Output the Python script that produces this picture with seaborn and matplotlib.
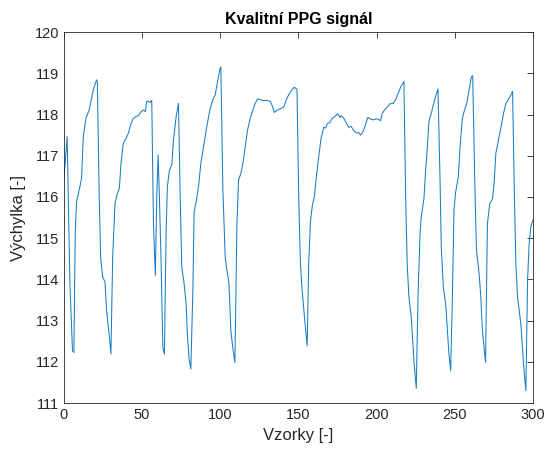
import matplotlib
matplotlib.use("Agg")
import matplotlib.pyplot as plt
import seaborn as sns
import pandas as pd

# PPG signal samples (sample index, amplitude)
vzorky = [
    0, 2.1, 3.8, 5.5, 6.4, 7.3, 8.1, 9.8, 11.3, 12.4, 14.1, 16.2, 18.8, 20.9, 21.4,
    22.6, 23.5, 24.8, 26.3, 27.3, 29.1, 30.1,
    31.2, 32.7, 34.2, 35.5, 36.5, 38.0, 39.7, 41.2, 42.7, 44.4, 46.2, 47.6, 49.4,
    50.9, 52.1, 53.0, 54.0, 55.1, 56.2,
    57.3, 58.5, 59.4, 60.3, 61.1, 62.2, 63.3, 64.3,
    65.4, 66.2, 67.5, 69.0, 70.1, 71.8, 73.3,
    74.4, 75.4, 76.9, 78.2, 79.1, 80.1, 81.2,
    82.5, 83.3, 84.6, 86.1, 87.6, 89.3, 91.4, 93.6, 95.3, 96.8, 98.5, 100.0, 100.4,
    101.7, 103.2, 104.3, 105.6, 106.8, 108.3, 109.4,
    110.7, 111.7, 113.2, 114.5, 116.0, 117.5, 119.2, 120.9, 122.4, 123.9, 125.6,
    127.7, 129.9, 132.0, 133.1, 134.6, 136.3, 138.4, 140.6, 142.3, 143.8, 145.9,
    147.4, 149.1,
    150.2, 151.3, 152.4, 153.9, 155.6,
    156.6, 157.7, 158.8, 160.3, 161.5, 163.0, 164.5, 166.2, 167.3, 168.8, 170.1,
    171.6, 173.3, 175.2, 176.5, 177.3, 179.0, 180.7, 182.2, 183.7, 185.5, 187.2,
    188.7, 189.7, 191.4, 192.9, 194.4, 196.2, 197.9, 199.4, 200.9, 202.6, 203.7,
    205.1, 206.9, 208.6, 210.7, 212.2, 214.3, 215.8, 217.5,
    218.6, 219.6, 220.7, 222.2, 223.9, 225.4,
    226.5, 227.8, 228.6, 230.3, 231.4, 232.5, 233.5, 235.0, 236.3, 237.8, 239.3,
    240.6, 241.4, 242.7, 244.2, 245.3, 246.3, 247.4,
    248.5, 249.5, 250.6, 252.3, 253.4, 254.9, 256.0, 257.7, 259.2, 260.7, 261.5,
    262.8, 263.9, 265.6, 266.7, 267.7, 269.7,
    270.9, 272.4, 274.2, 275.2, 276.3, 277.8, 279.5, 281.2, 282.7, 284.2, 285.5, 287.0,
    288.1, 289.1, 290.2, 292.3, 294.0, 295.5,
    296.6, 297.6, 298.7, 300.0,
]
vychylka = [
    116.41, 117.46, 113.98, 112.27, 112.23, 115.19, 115.88, 116.17, 116.45, 117.46,
    117.91, 118.11, 118.60, 118.84, 118.80,
    116.00, 114.54, 114.06, 113.94, 113.25, 112.60, 112.19,
    114.54, 115.84, 116.09, 116.21, 116.81, 117.30, 117.42, 117.54, 117.75, 117.91,
    117.95, 117.97, 118.07, 118.11, 118.07, 118.32, 118.32, 118.29, 118.34,
    115.35, 114.10, 116.00, 117.02, 116.00, 114.38, 112.35, 112.19,
    115.19, 116.25, 116.65, 116.77, 117.38, 117.95, 118.27,
    116.00, 114.30, 113.90, 113.41, 112.60, 112.07, 111.83,
    113.73, 115.64, 115.88, 116.25, 116.81, 117.22, 117.71, 118.15, 118.36, 118.48,
    118.84, 119.13, 119.15,
    116.17, 114.54, 114.22, 113.90, 112.76, 112.27, 111.99,
    115.35, 116.41, 116.57, 116.81, 117.22, 117.63, 117.91, 118.11, 118.27, 118.38,
    118.36, 118.34, 118.34, 118.32, 118.23, 118.05, 118.10, 118.14, 118.18, 118.36,
    118.48, 118.60, 118.66, 118.61,
    116.00, 114.38, 113.73, 113.08, 112.39,
    114.38, 115.40, 115.76, 116.04, 116.49, 116.98, 117.42, 117.69, 117.67, 117.79,
    117.80, 117.91, 117.95, 118.02, 117.93, 117.97, 117.91, 117.79, 117.69, 117.71,
    117.61, 117.55, 117.56, 117.50, 117.59, 117.75, 117.93, 117.89, 117.87, 117.89,
    117.89, 117.85, 118.03, 118.11, 118.18, 118.26, 118.27, 118.36, 118.56, 118.70,
    118.80,
    116.00, 114.38, 113.57, 113.08, 112.03, 111.36,
    113.57, 115.11, 115.52, 115.96, 116.65, 117.22, 117.83, 118.03, 118.23, 118.44,
    118.62,
    116.41, 114.79, 113.81, 113.41, 112.76, 112.19, 111.79,
    113.57, 115.68, 116.12, 116.49, 117.22, 117.91, 118.07, 118.27, 118.60, 118.92,
    118.94,
    116.41, 114.71, 114.14, 113.57, 112.76, 111.99,
    115.35, 115.84, 115.96, 116.33, 117.06, 117.34, 117.67, 118.03, 118.26, 118.36,
    118.44, 118.56,
    116.17, 114.38, 113.57, 112.92, 111.95, 111.30,
    113.98, 114.87, 115.28, 115.44,
]

df = pd.DataFrame({"Vzorky": vzorky, "Vychylka": vychylka})

sns.set_style("white")
plt.rcParams["font.family"] = ["Liberation Sans", "DejaVu Sans"]

fig = plt.figure(figsize=(5.46, 4.51), dpi=100)
ax = fig.add_axes([0.117, 0.106, 0.859, 0.823])

sns.lineplot(data=df, x="Vzorky", y="Vychylka", ax=ax, color="#1A7CC4",
             linewidth=0.75, sort=False, estimator=None)

ax.set_xlim(0, 300)
ax.set_ylim(111, 120)
ax.set_xticks(range(0, 301, 50))
ax.set_yticks(range(111, 121, 1))
ax.tick_params(direction="in", length=4, width=0.6, colors="#262626",
               labelsize=10.5, top=True, right=True, labelcolor="#262626")
for s in ax.spines.values():
    s.set_color("#262626")
    s.set_linewidth(0.6)
    s.set_visible(True)

ax.set_xlabel("Vzorky [-]", fontsize=12, color="#262626", labelpad=4)
ax.set_ylabel("Výchylka [-]", fontsize=12, color="#262626", labelpad=6)
ax.set_title("Kvalitní PPG signál", fontsize=11.5, fontweight="bold",
             color="black", pad=6)

fig.savefig("out.png", dpi=100)
